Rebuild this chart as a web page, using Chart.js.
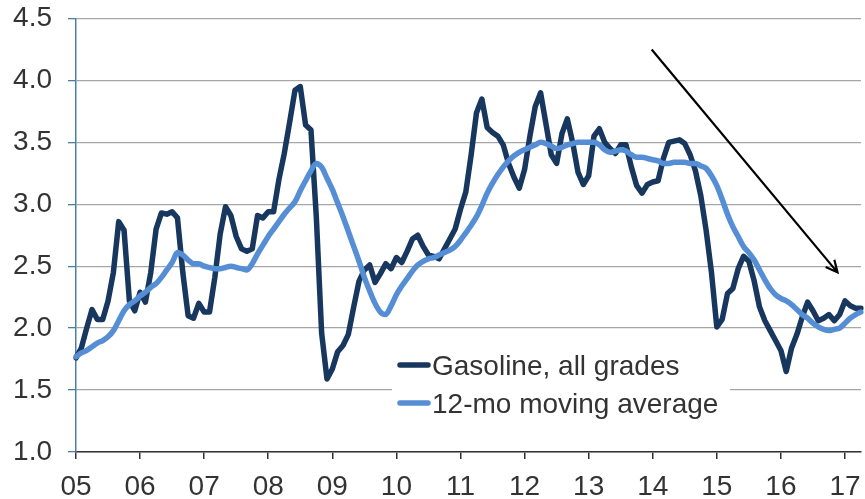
<!DOCTYPE html>
<html>
<head>
<meta charset="utf-8">
<script src="https://cdn.jsdelivr.net/npm/chart.js@4.4.0/dist/chart.umd.min.js"></script>
<style>
  html, body { margin: 0; padding: 0; background: #fff; }
  #wrap { width: 865px; height: 499px; }
</style>
</head>
<body>
<div id="wrap"><canvas id="chart" width="865" height="499"></canvas></div>
<script>
// ------------------------------------------------------------
// DATA  (monthly, Jan 2005 .. Apr 2017, $/gal)
// ------------------------------------------------------------
const yearLabels = ['05','06','07','08','09','10','11','12','13','14','15','16','17'];
const monthNames = ['Jan','Feb','Mar','Apr','May','Jun','Jul','Aug','Sep','Oct','Nov','Dec'];

const gasoline = [
  1.76, 1.84, 2.00, 2.15, 2.07, 2.07, 2.22, 2.45, 2.86, 2.79, 2.22, 2.14, // 05
  2.29, 2.21, 2.45, 2.80, 2.93, 2.92, 2.94, 2.89, 2.45, 2.10, 2.08, 2.20, // 06
  2.13, 2.13, 2.41, 2.76, 2.98, 2.91, 2.74, 2.64, 2.62, 2.64, 2.91, 2.89, // 07
  2.94, 2.94, 3.20, 3.41, 3.66, 3.92, 3.95, 3.64, 3.60, 2.90, 1.96, 1.59, // 08
  1.67, 1.81, 1.86, 1.95, 2.17, 2.38, 2.47, 2.51, 2.37, 2.44, 2.52, 2.48, // 09
  2.57, 2.53, 2.62, 2.72, 2.75, 2.66, 2.59, 2.58, 2.56, 2.64, 2.72, 2.80, // 10
  2.96, 3.10, 3.40, 3.74, 3.85, 3.62, 3.58, 3.55, 3.48, 3.33, 3.22, 3.13, // 11
  3.28, 3.55, 3.79, 3.90, 3.65, 3.40, 3.33, 3.57, 3.69, 3.50, 3.26, 3.16, // 12
  3.23, 3.55, 3.61, 3.50, 3.45, 3.41, 3.48, 3.48, 3.30, 3.15, 3.09, 3.16, // 13
  3.18, 3.19, 3.37, 3.50, 3.51, 3.52, 3.49, 3.40, 3.27, 3.07, 2.79, 2.45, // 14
  2.01, 2.07, 2.28, 2.32, 2.48, 2.58, 2.54, 2.38, 2.17, 2.06, 1.98, 1.90, // 15
  1.82, 1.65, 1.84, 1.95, 2.09, 2.21, 2.14, 2.06, 2.08, 2.11, 2.06, 2.11, // 16
  2.22, 2.18, 2.16, 2.16                                                  // 17
];

const movingAvg = [
  1.77, 1.80, 1.82, 1.85, 1.88, 1.90, 1.93, 1.98, 2.06, 2.14, 2.19, 2.22, // 05
  2.26, 2.29, 2.33, 2.36, 2.41, 2.47, 2.53, 2.61, 2.59, 2.55, 2.52, 2.52, // 06
  2.50, 2.49, 2.48, 2.48, 2.49, 2.50, 2.49, 2.48, 2.47, 2.52, 2.60, 2.67, // 07
  2.74, 2.80, 2.86, 2.92, 2.97, 3.02, 3.11, 3.19, 3.27, 3.33, 3.30, 3.21, // 08
  3.12, 3.01, 2.90, 2.78, 2.66, 2.54, 2.41, 2.30, 2.20, 2.13, 2.11, 2.18, // 09
  2.27, 2.34, 2.40, 2.46, 2.51, 2.54, 2.56, 2.57, 2.59, 2.61, 2.63, 2.66, // 10
  2.71, 2.77, 2.83, 2.90, 2.99, 3.09, 3.17, 3.24, 3.30, 3.35, 3.39, 3.42, // 11
  3.44, 3.46, 3.48, 3.50, 3.49, 3.47, 3.45, 3.46, 3.48, 3.49, 3.50, 3.50, // 12
  3.50, 3.50, 3.48, 3.44, 3.42, 3.43, 3.44, 3.43, 3.40, 3.38, 3.38, 3.37, // 13
  3.36, 3.35, 3.33, 3.33, 3.34, 3.34, 3.34, 3.33, 3.33, 3.31, 3.29, 3.23, // 14
  3.15, 3.04, 2.92, 2.82, 2.74, 2.66, 2.61, 2.55, 2.47, 2.39, 2.32, 2.27, // 15
  2.24, 2.22, 2.19, 2.15, 2.11, 2.08, 2.04, 2.01, 1.99, 1.98, 1.99, 2.00, // 16
  2.04, 2.08, 2.11, 2.13                                                  // 17
];

const yTicks = { min: 1.0, max: 4.5, step: 0.5 };

// arrow, in (month index, $/gal)
const arrowFrom = [107.8, 4.25];
const arrowTo = [142.6, 2.45];

// month categories built from the year labels
const months = [];
yearLabels.forEach(y => monthNames.forEach(m => months.push(m + ' ' + y)));
months.length = gasoline.length;

// ------------------------------------------------------------
// CHART
// ------------------------------------------------------------
const FONT = '"Liberation Sans", Arial, sans-serif';
const TXT = '#333333';
const AXIS_BLUE = '#4E7DA6';
Chart.defaults.font.family = FONT;

// legend drawn as a white box inside the plot
const legendBox = {
  id: 'legendBox',
  beforeDatasetsDraw(chart) {
    const c = chart.ctx;
    c.save();
    c.fillStyle = '#fff';
    c.fillRect(392, 336, 338, 86);
    chart.data.datasets.forEach((ds, i) => {
      const y = 365 + i * 38;
      c.strokeStyle = ds.borderColor;
      c.lineWidth = 5.5;
      c.lineCap = 'round';
      c.beginPath(); c.moveTo(400, y); c.lineTo(428, y); c.stroke();
      c.fillStyle = TXT;
      c.font = '28px ' + FONT;
      c.textBaseline = 'alphabetic';
      c.fillText(ds.label, 432, y + 10);
    });
    c.restore();
  }
};

const arrow = {
  id: 'arrow',
  afterDatasetsDraw(chart) {
    const { x, y } = chart.scales;
    const x1 = x.getPixelForValue(arrowFrom[0]), y1 = y.getPixelForValue(arrowFrom[1]);
    const x2 = x.getPixelForValue(arrowTo[0]), y2 = y.getPixelForValue(arrowTo[1]);
    const a = Math.atan2(y2 - y1, x2 - x1), len = 13, spread = 0.45;
    const c = chart.ctx;
    c.save();
    c.strokeStyle = '#000';
    c.lineWidth = 2.2;
    c.beginPath();
    c.moveTo(x1, y1); c.lineTo(x2, y2);
    c.moveTo(x2 - len * Math.cos(a - spread), y2 - len * Math.sin(a - spread));
    c.lineTo(x2, y2);
    c.lineTo(x2 - len * Math.cos(a + spread), y2 - len * Math.sin(a + spread));
    c.stroke();
    c.restore();
  }
};

new Chart(document.getElementById('chart').getContext('2d'), {
  type: 'line',
  data: {
    labels: months,
    datasets: [
      { label: 'Gasoline, all grades', data: gasoline, borderColor: '#17375E', borderWidth: 5.5,
        pointRadius: 0, borderJoinStyle: 'round', borderCapStyle: 'round', tension: 0, order: 1 },
      { label: '12-mo moving average', data: movingAvg, borderColor: '#558ED5', borderWidth: 5.5,
        pointRadius: 0, borderJoinStyle: 'round', borderCapStyle: 'round', cubicInterpolationMode: 'monotone', order: 0 }
    ]
  },
  options: {
    responsive: false,
    animation: false,
    layout: { padding: { top: 18.5, right: 4, left: 0, bottom: 0 } },
    plugins: { legend: { display: false }, tooltip: { enabled: false } },
    scales: {
      x: {
        type: 'category',
        grid: { drawOnChartArea: false, tickLength: 7, lineWidth: 1.5,
                tickColor: c => c.index % 12 === 0 ? '#333' : 'rgba(0,0,0,0)' },
        border: { color: '#333', width: 1.5 },
        ticks: { autoSkip: false, maxRotation: 0, minRotation: 0, padding: 11, color: TXT,
                 font: { size: 28 },
                 callback: (v, i) => i % 12 === 0 ? yearLabels[i / 12] : '' },
        afterFit: s => { s.height = 47; s.paddingLeft = 0; s.paddingRight = 0; }
      },
      y: {
        min: yTicks.min, max: yTicks.max,
        grid: { color: '#A6A6A6', lineWidth: 1.3, tickLength: 8, tickColor: AXIS_BLUE },
        border: { color: AXIS_BLUE, width: 1.5 },
        ticks: { stepSize: yTicks.step, padding: 16, color: TXT, font: { size: 28 },
                 callback: v => v.toFixed(1) },
        afterFit: s => { s.width = 76; s.paddingTop = 0; s.paddingBottom = 0; }
      }
    }
  },
  plugins: [legendBox, arrow]
});
</script>
</body>
</html>
